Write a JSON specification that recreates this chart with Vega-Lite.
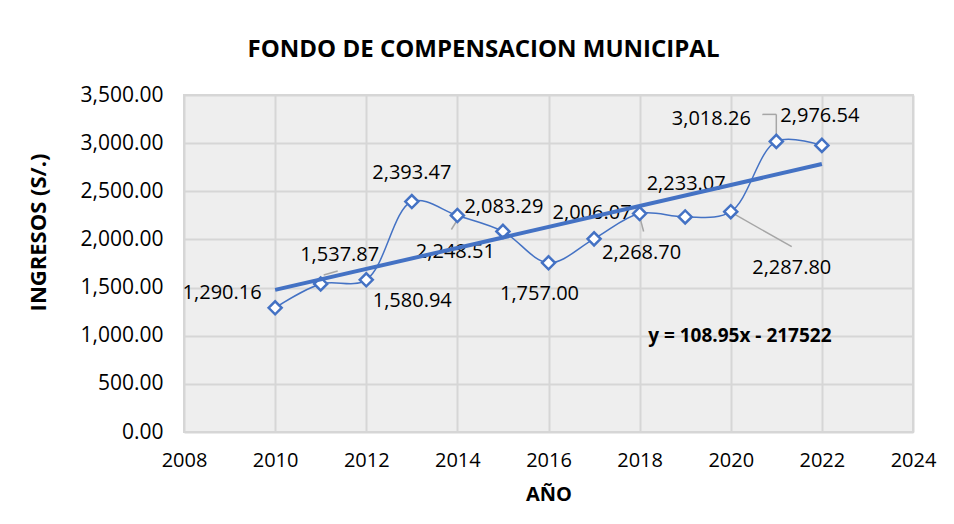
{
  "$schema": "https://vega.github.io/schema/vega-lite/v6.json",
  "autosize": {"type": "none"},
  "width": 729,
  "height": 337,
  "padding": {"left": 184, "top": 95, "right": 41, "bottom": 92},
  "background": "white",
  "title": {
    "text": "FONDO DE COMPENSACION MUNICIPAL",
    "font": "Open Sans",
    "fontSize": 24,
    "fontWeight": "bold",
    "color": "#000000",
    "anchor": "middle",
    "dx": -65,
    "offset": 22
  },
  "data": {
    "values": [
      {"anio": 2010, "ingresos": 1290.16},
      {"anio": 2011, "ingresos": 1537.87},
      {"anio": 2012, "ingresos": 1580.94},
      {"anio": 2013, "ingresos": 2393.47},
      {"anio": 2014, "ingresos": 2248.51},
      {"anio": 2015, "ingresos": 2083.29},
      {"anio": 2016, "ingresos": 1757.00},
      {"anio": 2017, "ingresos": 2006.07},
      {"anio": 2018, "ingresos": 2268.70},
      {"anio": 2019, "ingresos": 2233.07},
      {"anio": 2020, "ingresos": 2287.80},
      {"anio": 2021, "ingresos": 3018.26},
      {"anio": 2022, "ingresos": 2976.54}
    ]
  },
  "encoding": {
    "x": {
      "field": "anio", "type": "quantitative",
      "scale": {"domain": [2008, 2024], "nice": false, "zero": false},
      "axis": {
        "values": [2008, 2010, 2012, 2014, 2016, 2018, 2020, 2022, 2024],
        "format": "d",
        "title": "AÑO",
        "titleFont": "Open Sans", "titleFontSize": 20, "titleFontWeight": "bold", "titleColor": "#000000",
        "titleY": 62, "titleBaseline": "middle",
        "labelFont": "Open Sans", "labelFontSize": 20, "labelColor": "#000000",
        "labelPadding": 18, "labelFlush": false, "labelOverlap": false,
        "domain": false, "ticks": false,
        "grid": true, "gridColor": "#d6d6d6", "gridWidth": 2
      }
    },
    "y": {
      "field": "ingresos", "type": "quantitative",
      "scale": {"domain": [0, 3500], "nice": false},
      "axis": {
        "values": [0, 500, 1000, 1500, 2000, 2500, 3000, 3500],
        "format": ",.2f",
        "title": "INGRESOS (S/.)",
        "titleFont": "Open Sans", "titleFontSize": 22, "titleFontWeight": "bold", "titleColor": "#000000",
        "titleX": -146, "titleY": 137, "titleBaseline": "middle", "titleAngle": -90,
        "labelFont": "Open Sans", "labelFontSize": 21, "labelColor": "#000000",
        "labelPadding": 21, "labelFlush": false,
        "domain": false, "ticks": false,
        "grid": true, "gridColor": "#d6d6d6", "gridWidth": 2
      }
    }
  },
  "layer": [
    {
      "mark": {"type": "line", "interpolate": "catmull-rom", "color": "#4472C4", "strokeWidth": 1.5}
    },
    {
      "mark": {"type": "rule", "color": "#a6a6a6", "strokeWidth": 1.5, "xOffset": -1, "yOffset": 6, "x2Offset": -6, "y2Offset": 14},
      "transform": [{"filter": "datum.anio == 2014"}],
      "encoding": {"x2": {"field": "anio"}, "y2": {"field": "ingresos"}}
    },
    {
      "mark": {"type": "rule", "color": "#a6a6a6", "strokeWidth": 1.5, "xOffset": 0, "yOffset": 3, "x2Offset": 4, "y2Offset": 18},
      "transform": [{"filter": "datum.anio == 2018"}],
      "encoding": {"x2": {"field": "anio"}, "y2": {"field": "ingresos"}}
    },
    {
      "mark": {"type": "rule", "color": "#a6a6a6", "strokeWidth": 1.5, "xOffset": 1, "yOffset": 1, "x2Offset": 61, "y2Offset": 35},
      "transform": [{"filter": "datum.anio == 2020"}],
      "encoding": {"x2": {"field": "anio"}, "y2": {"field": "ingresos"}}
    },
    {
      "mark": {"type": "rule", "color": "#a6a6a6", "strokeWidth": 1.5, "xOffset": -14, "yOffset": -27, "x2Offset": 0, "y2Offset": -27},
      "transform": [{"filter": "datum.anio == 2021"}],
      "encoding": {"x2": {"field": "anio"}, "y2": {"field": "ingresos"}}
    },
    {
      "mark": {"type": "rule", "color": "#a6a6a6", "strokeWidth": 1.5, "xOffset": 0, "yOffset": -27, "x2Offset": 0, "y2Offset": -6},
      "transform": [{"filter": "datum.anio == 2021"}],
      "encoding": {"x2": {"field": "anio"}, "y2": {"field": "ingresos"}}
    },
    {
      "mark": {"type": "rule", "color": "#a6a6a6", "strokeWidth": 1.5, "xOffset": 3, "yOffset": -9, "x2Offset": 17, "y2Offset": -13},
      "transform": [{"filter": "datum.anio == 2011"}],
      "encoding": {"x2": {"field": "anio"}, "y2": {"field": "ingresos"}}
    },
    {
      "mark": {"type": "point", "shape": "diamond", "filled": true, "fill": "#ffffff", "stroke": "#4472C4", "strokeWidth": 2.5, "size": 170, "opacity": 1}
    },
    {"transform": [{"filter": "datum.anio == 2010"}], "mark": {"type": "text", "font": "Open Sans", "fontSize": 20, "color": "#000000", "dx": -53, "dy": -15}, "encoding": {"text": {"field": "ingresos", "format": ",.2f"}}},
    {"transform": [{"filter": "datum.anio == 2011"}], "mark": {"type": "text", "font": "Open Sans", "fontSize": 20, "color": "#000000", "dx": 19, "dy": -29}, "encoding": {"text": {"field": "ingresos", "format": ",.2f"}}},
    {"transform": [{"filter": "datum.anio == 2012"}], "mark": {"type": "text", "font": "Open Sans", "fontSize": 20, "color": "#000000", "dx": 46, "dy": 21}, "encoding": {"text": {"field": "ingresos", "format": ",.2f"}}},
    {"transform": [{"filter": "datum.anio == 2013"}], "mark": {"type": "text", "font": "Open Sans", "fontSize": 20, "color": "#000000", "dx": 0, "dy": -29}, "encoding": {"text": {"field": "ingresos", "format": ",.2f"}}},
    {"transform": [{"filter": "datum.anio == 2014"}], "mark": {"type": "text", "font": "Open Sans", "fontSize": 20, "color": "#000000", "dx": -2, "dy": 36}, "encoding": {"text": {"field": "ingresos", "format": ",.2f"}}},
    {"transform": [{"filter": "datum.anio == 2015"}], "mark": {"type": "text", "font": "Open Sans", "fontSize": 20, "color": "#000000", "dx": 1, "dy": -24}, "encoding": {"text": {"field": "ingresos", "format": ",.2f"}}},
    {"transform": [{"filter": "datum.anio == 2016"}], "mark": {"type": "text", "font": "Open Sans", "fontSize": 20, "color": "#000000", "dx": -9, "dy": 31}, "encoding": {"text": {"field": "ingresos", "format": ",.2f"}}},
    {"transform": [{"filter": "datum.anio == 2017"}], "mark": {"type": "text", "font": "Open Sans", "fontSize": 20, "color": "#000000", "dx": -2, "dy": -26}, "encoding": {"text": {"field": "ingresos", "format": ",.2f"}}},
    {"transform": [{"filter": "datum.anio == 2018"}], "mark": {"type": "text", "font": "Open Sans", "fontSize": 20, "color": "#000000", "dx": 2, "dy": 39}, "encoding": {"text": {"field": "ingresos", "format": ",.2f"}}},
    {"transform": [{"filter": "datum.anio == 2019"}], "mark": {"type": "text", "font": "Open Sans", "fontSize": 20, "color": "#000000", "dx": 1, "dy": -33}, "encoding": {"text": {"field": "ingresos", "format": ",.2f"}}},
    {"transform": [{"filter": "datum.anio == 2020"}], "mark": {"type": "text", "font": "Open Sans", "fontSize": 20, "color": "#000000", "dx": 61, "dy": 56}, "encoding": {"text": {"field": "ingresos", "format": ",.2f"}}},
    {"transform": [{"filter": "datum.anio == 2021"}], "mark": {"type": "text", "font": "Open Sans", "fontSize": 20, "color": "#000000", "dx": -65, "dy": -22}, "encoding": {"text": {"field": "ingresos", "format": ",.2f"}}},
    {"transform": [{"filter": "datum.anio == 2022"}], "mark": {"type": "text", "font": "Open Sans", "fontSize": 20, "color": "#000000", "dx": -2, "dy": -29}, "encoding": {"text": {"field": "ingresos", "format": ",.2f"}}},
    {
      "transform": [{"regression": "ingresos", "on": "anio", "method": "linear", "extent": [2010, 2022]}],
      "mark": {"type": "line", "color": "#4472C4", "strokeWidth": 4}
    },
    {
      "transform": [{"filter": "datum.anio == 2022"}],
      "mark": {"type": "text", "font": "Open Sans", "fontSize": 19, "fontWeight": "bold", "color": "#000000"},
      "encoding": {
        "x": {"datum": 2020.2},
        "y": {"datum": 1000},
        "text": {"value": "y = 108.95x - 217522"}
      }
    }
  ],
  "config": {
    "view": {"fill": "#eeeeee", "stroke": "#d6d6d6", "strokeWidth": 2}
  }
}
